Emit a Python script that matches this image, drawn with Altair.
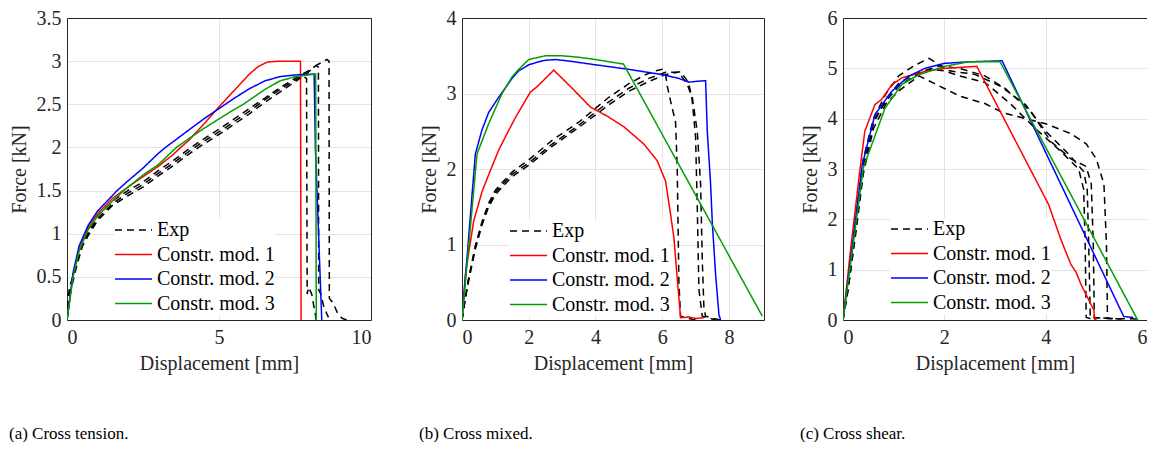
import altair as alt
import pandas as pd

# ---------------- Panel (a) Cross tension ----------------
a_exp1_x = [0, 0.05, 0.1, 0.3, 0.5, 0.7, 1.0, 1.5, 2.0, 2.5, 3.0, 3.5, 4.0, 4.5, 5.0, 5.5, 6.0, 6.5, 7.0, 7.5, 7.75, 7.88, 7.9, 7.95, 8.05, 8.15, 8.2]
a_exp1_y = [0, 0.3, 0.4, 0.62, 0.86, 1.0, 1.17, 1.35, 1.47, 1.57, 1.7, 1.82, 1.95, 2.07, 2.18, 2.3, 2.42, 2.55, 2.67, 2.78, 2.83, 2.8, 0.3, 0.38, 0.3, 0.1, 0.0]
a_exp2_x = [0, 0.1, 0.3, 0.5, 0.7, 1.0, 1.5, 2.0, 2.5, 3.0, 3.5, 4.0, 4.5, 5.0, 5.5, 6.0, 6.5, 7.0, 7.5, 7.8, 8.0, 8.2, 8.27, 8.28, 8.35, 8.45, 8.6]
a_exp2_y = [0, 0.35, 0.65, 0.88, 1.02, 1.2, 1.38, 1.5, 1.6, 1.73, 1.85, 1.98, 2.1, 2.21, 2.33, 2.45, 2.57, 2.69, 2.8, 2.86, 2.9, 2.95, 2.93, 0.35, 0.3, 0.15, 0.03]
a_exp3_x = [0, 0.1, 0.3, 0.5, 0.7, 1.0, 1.5, 2.0, 2.5, 3.0, 3.5, 4.0, 4.5, 5.0, 5.5, 6.0, 6.5, 7.0, 7.5, 7.9, 8.2, 8.55, 8.62, 8.63, 8.75, 8.9, 9.05, 9.2]
a_exp3_y = [0, 0.3, 0.6, 0.85, 0.98, 1.15, 1.33, 1.44, 1.54, 1.67, 1.79, 1.92, 2.04, 2.15, 2.27, 2.39, 2.52, 2.64, 2.76, 2.86, 2.95, 3.02, 3.0, 0.25, 0.2, 0.08, 0.02, 0.0]
a_m1_x = [0, 0.2, 0.4, 0.7, 1.0, 1.5, 2.0, 2.5, 3.0, 3.5, 3.74, 4.0, 4.5, 5.0, 5.5, 6.0, 6.3, 6.6, 7.0, 7.68, 7.7]
a_m1_y = [0, 0.52, 0.82, 1.07, 1.23, 1.41, 1.54, 1.66, 1.78, 1.92, 2.0, 2.08, 2.27, 2.47, 2.66, 2.85, 2.94, 2.99, 3.0, 3.0, 0]
a_m2_x = [0, 0.2, 0.4, 0.7, 1.0, 1.65, 2.0, 2.5, 3.0, 3.24, 4.0, 4.5, 5.0, 5.5, 6.0, 6.5, 7.0, 7.5, 8.13, 8.17, 8.38]
a_m2_y = [0, 0.55, 0.86, 1.1, 1.26, 1.5, 1.61, 1.76, 1.93, 2.0, 2.2, 2.33, 2.45, 2.57, 2.68, 2.77, 2.82, 2.84, 2.85, 2.0, 0]
a_m3_x = [0, 0.2, 0.4, 0.7, 1.0, 1.5, 1.87, 2.5, 3.0, 3.6, 4.0, 4.5, 5.0, 5.5, 5.8, 6.5, 7.0, 7.5, 8.18, 8.2]
a_m3_y = [0, 0.5, 0.8, 1.05, 1.2, 1.38, 1.5, 1.68, 1.8, 2.0, 2.1, 2.22, 2.33, 2.44, 2.5, 2.67, 2.77, 2.82, 2.85, 0]

# ---------------- Panel (b) Cross mixed ----------------
b_exp1_x = [0, 0.1, 0.2, 0.4, 0.6, 0.8, 1.0, 1.5, 2.0, 2.7, 3.5, 4.4, 5.0, 5.5, 5.8, 6.0, 6.1, 6.15, 6.25, 6.4, 6.45, 6.5, 6.55, 6.8, 7.0]
b_exp1_y = [0, 0.3, 0.55, 0.98, 1.3, 1.55, 1.72, 1.96, 2.12, 2.38, 2.62, 2.95, 3.13, 3.25, 3.3, 3.32, 3.25, 3.1, 2.9, 2.62, 2.0, 0.5, 0.05, 0.02, 0.0]
b_exp2_x = [0, 0.1, 0.2, 0.4, 0.6, 0.8, 1.0, 1.5, 2.0, 2.7, 3.5, 4.4, 5.0, 5.6, 6.1, 6.55, 6.7, 6.8, 6.9, 7.0, 7.05, 7.1, 7.2, 7.45, 7.6]
b_exp2_y = [0, 0.28, 0.52, 0.94, 1.26, 1.5, 1.66, 1.9, 2.05, 2.3, 2.55, 2.85, 3.03, 3.16, 3.25, 3.29, 3.2, 3.13, 2.9, 2.42, 1.5, 0.4, 0.05, 0.02, 0.0]
b_exp3_x = [0, 0.1, 0.2, 0.4, 0.6, 0.8, 1.0, 1.5, 2.0, 2.7, 3.5, 4.4, 5.0, 5.6, 6.1, 6.5, 6.75, 6.9, 7.05, 7.15, 7.2, 7.25, 7.3, 7.55, 7.75]
b_exp3_y = [0, 0.3, 0.55, 0.97, 1.28, 1.52, 1.69, 1.93, 2.08, 2.33, 2.58, 2.89, 3.07, 3.2, 3.28, 3.28, 3.12, 2.95, 2.5, 1.8, 0.8, 0.15, 0.05, 0.02, 0.0]
b_m1_x = [0, 0.1, 0.35, 0.6, 0.85, 1.1, 1.35, 1.6, 1.85, 2.05, 2.25, 2.5, 2.75, 3.3, 3.85, 4.35, 4.85, 5.45, 5.85, 6.1, 6.25, 6.35, 6.45, 6.55, 6.8, 7.0, 7.25]
b_m1_y = [0, 0.6, 1.31, 1.7, 1.98, 2.25, 2.47, 2.68, 2.87, 3.02, 3.09, 3.2, 3.31, 3.07, 2.82, 2.7, 2.56, 2.33, 2.11, 1.84, 1.4, 1.09, 0.55, 0.03, 0.04, 0.02, 0.03]
b_m2_x = [0, 0.4, 0.6, 0.8, 1.1, 1.5, 1.7, 2.0, 2.3, 2.5, 2.8, 3.2, 4.0, 5.0, 6.0, 6.5, 6.8, 7.0, 7.3, 7.35, 7.45, 7.5, 7.6, 7.7, 7.75]
b_m2_y = [0, 2.2, 2.52, 2.75, 2.95, 3.2, 3.3, 3.38, 3.42, 3.44, 3.45, 3.43, 3.38, 3.32, 3.25, 3.2, 3.15, 3.16, 3.17, 2.5, 1.8, 1.3, 0.6, 0.07, 0.0]
b_m3_x = [0, 0.45, 0.8, 1.2, 1.5, 1.7, 2.0, 2.5, 3.0, 3.5, 4.0, 4.84, 9.0]
b_m3_y = [0, 2.2, 2.6, 3.0, 3.22, 3.32, 3.45, 3.5, 3.5, 3.48, 3.45, 3.39, 0.05]

# ---------------- Panel (c) Cross shear ----------------
c_exp1_x = [0, 0.1, 0.25, 0.4, 0.6, 0.85, 1.1, 1.4, 1.7, 1.85, 2.1, 2.6, 3.1, 3.6, 4.0, 4.45, 4.75, 4.82, 4.85, 4.88, 5.4]
c_exp1_y = [0, 0.8, 2.0, 3.2, 4.0, 4.5, 4.85, 5.05, 5.2, 5.1, 4.95, 4.88, 4.65, 4.28, 3.75, 3.3, 2.95, 2.6, 1.5, 0.05, 0.02]
c_exp2_x = [0, 0.1, 0.25, 0.4, 0.6, 0.85, 1.1, 1.4, 1.7, 2.0, 2.3, 2.8, 3.3, 3.8, 4.3, 4.65, 4.75, 4.78, 4.8, 5.0]
c_exp2_y = [0, 0.7, 1.9, 3.0, 3.9, 4.4, 4.7, 4.88, 4.98, 4.95, 4.85, 4.72, 4.3, 3.8, 3.35, 3.0, 2.6, 1.5, 0.05, 0.0]
c_exp3_x = [0, 0.1, 0.25, 0.4, 0.6, 0.85, 1.1, 1.5, 1.9, 2.3, 2.8, 3.2, 3.7, 4.1, 4.5, 4.8, 4.9, 4.94, 4.96, 5.5]
c_exp3_y = [0, 0.6, 1.8, 3.1, 3.95, 4.35, 4.65, 4.9, 5.05, 5.0, 4.85, 4.6, 4.15, 3.55, 3.2, 3.05, 2.7, 1.5, 0.05, 0.02]
c_exp4_x = [0, 0.1, 0.25, 0.4, 0.6, 0.85, 1.1, 1.5, 1.8, 2.0, 2.3, 2.8, 3.15, 3.6, 4.0, 4.5, 4.8, 5.0, 5.15, 5.2, 5.22, 5.8]
c_exp4_y = [0, 0.6, 1.7, 2.9, 3.8, 4.3, 4.55, 4.85, 4.7, 4.6, 4.45, 4.3, 4.12, 4.0, 3.9, 3.7, 3.5, 3.2, 2.7, 1.5, 0.03, 0.02]
c_m1_x = [0, 0.15, 0.33, 0.43, 0.63, 0.76, 0.96, 1.16, 1.62, 2.01, 2.64, 4.06, 4.3, 4.4, 4.5, 4.6, 4.7, 4.8, 4.9, 4.95, 4.97]
c_m1_y = [0, 1.4, 2.95, 3.75, 4.28, 4.38, 4.67, 4.81, 4.94, 5.0, 5.04, 2.29, 1.6, 1.35, 1.1, 0.95, 0.7, 0.5, 0.3, 0.2, 0.0]
c_m2_x = [0, 0.2, 0.38, 0.63, 0.96, 1.29, 1.62, 2.01, 2.5, 3.14, 5.54, 5.73]
c_m2_y = [0, 1.6, 3.08, 4.08, 4.54, 4.84, 5.0, 5.1, 5.13, 5.15, 0.07, 0.05]
c_m3_x = [0, 0.2, 0.4, 0.83, 1.16, 1.49, 2.01, 2.48, 3.1, 5.8, 5.82]
c_m3_y = [0, 1.5, 3.02, 4.21, 4.68, 4.87, 5.04, 5.13, 5.13, 0.03, 0.0]

SERIES = ["Exp", "Constr. mod. 1", "Constr. mod. 2", "Constr. mod. 3"]
COLORS = ["#000000", "#ff0000", "#0000ff", "#00a000"]
DASHES = [[7, 5], [1, 0], [1, 0], [1, 0]]


def build(curves):
    rows = []
    for series, run, xs, ys in curves:
        for i, (x, y) in enumerate(zip(xs, ys)):
            rows.append({"series": series, "run": run, "x": x, "y": y, "i": i})
    return pd.DataFrame(rows)


df_a = build([
    ("Exp", "e1", a_exp1_x, a_exp1_y), ("Exp", "e2", a_exp2_x, a_exp2_y), ("Exp", "e3", a_exp3_x, a_exp3_y),
    ("Constr. mod. 1", "m1", a_m1_x, a_m1_y), ("Constr. mod. 2", "m2", a_m2_x, a_m2_y),
    ("Constr. mod. 3", "m3", a_m3_x, a_m3_y),
])
df_b = build([
    ("Exp", "e1", b_exp1_x, b_exp1_y), ("Exp", "e2", b_exp2_x, b_exp2_y), ("Exp", "e3", b_exp3_x, b_exp3_y),
    ("Constr. mod. 1", "m1", b_m1_x, b_m1_y), ("Constr. mod. 2", "m2", b_m2_x, b_m2_y),
    ("Constr. mod. 3", "m3", b_m3_x, b_m3_y),
])
df_c = build([
    ("Exp", "e1", c_exp1_x, c_exp1_y), ("Exp", "e2", c_exp2_x, c_exp2_y), ("Exp", "e3", c_exp3_x, c_exp3_y),
    ("Exp", "e4", c_exp4_x, c_exp4_y),
    ("Constr. mod. 1", "m1", c_m1_x, c_m1_y), ("Constr. mod. 2", "m2", c_m2_x, c_m2_y),
    ("Constr. mod. 3", "m3", c_m3_x, c_m3_y),
])

FONT = "Liberation Serif, Times New Roman, DejaVu Serif, serif"
FRAME = "#262626"


def panel(df, xdom, xticks, ydom, yticks, caption, w, legx, legy):
    legend = alt.Legend(
        title=None, orient="none", legendX=legx, legendY=legy,
        symbolType="stroke", symbolSize=1369, symbolStrokeWidth=1.6,
        clipHeight=22, rowPadding=2.5,
        labelFont=FONT, labelFontSize=20, labelColor="#000000",
        fillColor="white", padding=0, labelOffset=4,
    )
    xs = alt.Scale(domain=xdom, nice=False, zero=False)
    ys = alt.Scale(domain=ydom, nice=False)
    lines = alt.Chart(df).mark_line(strokeWidth=1.5, clip=True).encode(
        x=alt.X("x:Q", scale=xs,
                axis=alt.Axis(values=xticks, title="Displacement [mm]", labelExpr="'' + datum.value",
                              domain=True, domainColor=FRAME)),
        y=alt.Y("y:Q", scale=ys,
                axis=alt.Axis(values=yticks, title="Force [kN]", labelExpr="'' + datum.value",
                              domain=True, domainColor=FRAME)),
        color=alt.Color("series:N", scale=alt.Scale(domain=SERIES, range=COLORS), legend=legend),
        strokeDash=alt.StrokeDash("series:N", scale=alt.Scale(domain=SERIES, range=DASHES), legend=legend),
        detail="run:N",
        order="i:Q",
    )
    # invisible layer carrying the top and right frame edges
    frame = alt.Chart(df).mark_line(opacity=0).encode(
        x=alt.X("x:Q", scale=xs,
                axis=alt.Axis(orient="top", labels=False, grid=False, title=None, ticks=False,
                              domain=True, domainColor=FRAME)),
        y=alt.Y("y:Q", scale=ys,
                axis=alt.Axis(orient="right", labels=False, grid=False, title=None, ticks=False,
                              domain=True, domainColor=FRAME)),
        detail="run:N",
        order="i:Q",
    )
    return alt.layer(lines, frame).resolve_axis(x="independent", y="independent").properties(
        width=w, height=302,
        title=alt.TitleParams(caption, orient="bottom", anchor="start", offset=53,
                              font=FONT, fontSize=17, fontWeight="normal", color="#000000"),
    )


pa = panel(df_a, [0, 10], [0, 5, 10], [0, 3.5], [0, 0.5, 1, 1.5, 2, 2.5, 3, 3.5],
           "(a) Cross tension.", 304, 47, 201)
pb = panel(df_b, [0, 9.05], [0, 2, 4, 6, 8], [0, 4], [0, 1, 2, 3, 4],
           "(b) Cross mixed.", 302, 47, 202)
pc = panel(df_c, [0, 6], [0, 2, 4, 6], [0, 6], [0, 1, 2, 3, 4, 5, 6],
           "(c) Cross shear.", 304, 47, 200)

right_pair = alt.hconcat(pb, pc, spacing=36).resolve_scale(color="independent", strokeDash="independent")

chart = alt.hconcat(pa, right_pair, spacing=48).resolve_scale(
    color="independent", strokeDash="independent"
).configure(padding={"left": 1, "top": 0, "right": 0, "bottom": 0}).configure_view(
    strokeWidth=0
).configure_axis(
    labelFont=FONT, titleFont=FONT, labelFontSize=20, titleFontSize=20,
    labelColor="#262626", titleColor="#262626", titleFontWeight="normal",
    gridColor="#e3e3e3", gridWidth=1, ticks=False, domainWidth=1,
).configure_axisX(labelPadding=7, titlePadding=6).configure_axisY(labelPadding=6, titlePadding=7)

chart.save("out.html", embed_options={"renderer": "svg", "actions": False})
